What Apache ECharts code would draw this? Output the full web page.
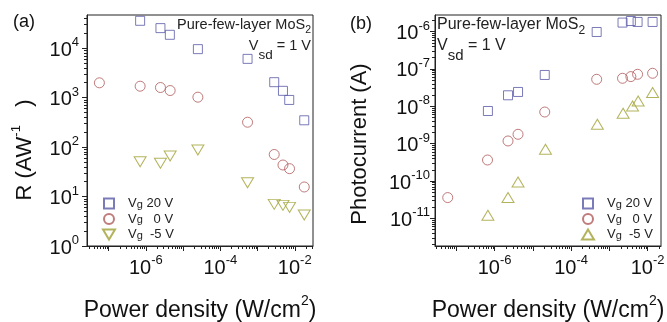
<!DOCTYPE html>
<html><head><meta charset="utf-8">
<script src="https://cdn.jsdelivr.net/npm/echarts@6/dist/echarts.min.js"></script>
<style>html,body{margin:0;padding:0;background:#fff}#c{width:667px;height:322px}</style>
</head><body><div id="c"></div>
<script>
// ---- Panel (a): responsivity R (A/W) vs power density (W/cm^2)
const aPower20 = [7.03e-7, 2.47e-6, 4.42e-6, 2.5e-5, 5.4e-4, 2.81e-3, 4.82e-3, 7.11e-3, 1.8e-2];
const aR20     = [35700, 25400, 18600, 9550, 6070, 2050, 1370, 897, 348];
const aPower0  = [5.66e-8, 7.03e-7, 2.47e-6, 4.5e-6, 2.5e-5, 5.4e-4, 2.81e-3, 4.82e-3, 7.24e-3, 1.8e-2];
const aR0      = [1990, 1700, 1600, 1390, 1020, 318, 70.8, 43.4, 36.6, 15.6];
const aPowerM5 = [7.03e-7, 2.47e-6, 4.5e-6, 2.5e-5, 5.4e-4, 2.81e-3, 4.82e-3, 7.24e-3, 1.8e-2];
const aRM5     = [50.6, 47, 66, 87.3, 19, 6.95, 6.64, 6.04, 4.23];
// ---- Panel (b): photocurrent (A) vs power density (W/cm^2)
const bPower20 = [6.71e-7, 2.25e-6, 4.11e-6, 2.05e-5, 4.67e-4, 2.21e-3, 3.65e-3, 5.47e-3, 1.35e-2];
const bI20     = [7.48e-9, 1.97e-8, 2.42e-8, 6.89e-8, 9.75e-7, 1.74e-6, 1.92e-6, 1.81e-6, 1.81e-6];
const bPower0  = [5.98e-8, 6.55e-7, 2.25e-6, 4.11e-6, 2.05e-5, 4.67e-4, 2.21e-3, 3.65e-3, 5.47e-3, 1.35e-2];
const bI0      = [3.6e-11, 3.65e-10, 1.18e-9, 1.78e-9, 7.03e-9, 5.28e-8, 5.62e-8, 6.24e-8, 7.19e-8, 7.66e-8];
const bPowerM5 = [6.71e-7, 2.25e-6, 4.11e-6, 2.14e-5, 4.86e-4, 2.29e-3, 4.04e-3, 5.66e-3, 1.35e-2];
const bIM5     = [1.21e-11, 3.6e-11, 9.4e-11, 7.06e-10, 3.3e-9, 6.5e-9, 1.02e-8, 1.39e-8, 2.33e-8];
const legendLabels = [' 20 V', '   0 V', '  -5 V'];
// axis ranges (log10 of limits)
const aXRange = [-7.58, -1.51], aYRange = [0, 4.67];
const bXRange = [-7.556, -1.65], bYRange = [-11.74, -5.556];

const FONT = "'Liberation Sans', Arial, sans-serif";
const BLUE = '#5a5aa8', RED = '#b05a5a', OLIVE = '#a0a035';
const INK = '#111';

function zip(xs, ys) { return xs.map((x, i) => [x, ys[i]]); }
// log10 positions of the 2..9 minor ticks inside a decade range
function minorLogValues(r) {
  const out = [];
  for (let k = Math.floor(r[0]); k <= Math.ceil(r[1]); k++) {
    for (let m = 2; m <= 9; m++) {
      const lv = k + Math.log10(m);
      if (lv > r[0] && lv < r[1]) out.push(lv);
    }
  }
  return out;
}
function expLabel(onlyEven) {
  return function (v) {
    const e = Math.log10(v), r = Math.round(e);
    if (Math.abs(e - r) > 0.01) return '';
    if (onlyEven && r % 2 !== 0) return '';
    return '{b|10}{s|' + r + '}';
  };
}
const tickRich = {
  b: { fontSize: 20, fontFamily: FONT, color: INK, lineHeight: 24, verticalAlign: 'bottom' },
  s: { fontSize: 13, fontFamily: FONT, color: INK, lineHeight: 13, verticalAlign: 'top' }
};
const nameRich = {
  t: { fontSize: 23, fontFamily: FONT, color: INK, lineHeight: 28, verticalAlign: 'bottom' },
  s: { fontSize: 14, fontFamily: FONT, color: INK, lineHeight: 14, verticalAlign: 'top' }
};
function logAxis(opts) {
  return Object.assign({
    type: 'log', logBase: 10,
    axisLine: { show: true, lineStyle: { color: '#222', width: 1 } },
    axisTick: { show: true, length: 5, inside: false, lineStyle: { color: '#222', width: 1 } },
    splitLine: { show: false },
    nameLocation: 'middle',
    nameTextStyle: { rich: nameRich }
  }, opts);
}
// overlay axis (same rectangle) in log10 units that only draws the short minor ticks
function minorAxis(gridIndex, r, pos) {
  return {
    type: 'value', gridIndex: gridIndex, position: pos, min: r[0], max: r[1],
    axisLine: { show: true, onZero: false, lineStyle: { color: '#222', opacity: 0 } },
    axisLabel: { show: false }, splitLine: { show: false },
    axisTick: { show: true, length: 3, inside: false, customValues: minorLogValues(r), lineStyle: { color: '#222', width: 1, opacity: 1 } }
  };
}
function sym(name, shape, color, data, xi, yi, size, rot) {
  return {
    name: name, type: 'scatter', xAxisIndex: xi, yAxisIndex: yi,
    symbol: shape, symbolSize: size, symbolRotate: rot || 0, data: data,
    itemStyle: { color: 'rgba(255,255,255,0)', borderColor: color, borderWidth: 1 },
    emphasis: { disabled: true }
  };
}
const legendRich = {
  v: { fontSize: 13, fontFamily: FONT, color: '#222', lineHeight: 14 },
  g: { fontSize: 11, fontFamily: FONT, color: '#222', lineHeight: 14, padding: [2, 0, 0, 0] }
};
function legendFmt(name) {
  const idx = { a20: 0, b20: 0, a0: 1, b0: 1, am5: 2, bm5: 2 }[name];
  return '{v|V}{g|g}{v|' + legendLabels[idx].replace(/ /g, '\u00a0') + '}';
}
const SQ = 'path://M0,0H9V9H0Z';
const TRI_DOWN = 'path://M0,0L12,0L6,10Z';
const TRI_UP = 'path://M6,0L12,10L0,10Z';
function legendCfg(names, left, tri) {
  return {
    data: [{ name: names[0], icon: SQ }, { name: names[1], icon: 'circle' }, { name: names[2], icon: tri }],
    orient: 'vertical', left: left, top: 197, padding: 0, itemWidth: 12, itemHeight: 10,
    itemGap: 2.5, formatter: legendFmt, selectedMode: false,
    textStyle: { rich: legendRich, padding: [0, 0, 0, 8] }
  };
}
function annot(pos, size, textAlign) {
  const m = { fontSize: size, fontFamily: FONT, fill: '#222', verticalAlign: 'top' };
  return [
    Object.assign({ type: 'text', top: 17 }, pos, { style: { text: '{m|Pure-few-layer MoS}{s|2}', align: textAlign,
      rich: { m: m, s: { fontSize: size - 4, fontFamily: FONT, fill: '#222', verticalAlign: 'top', padding: [8, 0, 0, 0] } } } }),
    Object.assign({ type: 'text', top: 38 }, pos, { style: { text: '{m|V}{s|sd}{m| = 1 V}', align: textAlign,
      rich: { m: m, s: { fontSize: size - 1, fontFamily: FONT, fill: '#222', verticalAlign: 'top', padding: [10, 0, 0, 0] } } } })
  ];
}
const gridBase = { top: 15, width: 226, height: 231, containLabel: false, outerBoundsMode: 'none' };

const chart = echarts.init(document.getElementById('c'), null, { renderer: 'canvas' });
chart.setOption({
  animation: false,
  backgroundColor: '#fff',
  textStyle: { fontFamily: FONT },
  grid: [
    Object.assign({ left: 87, show: true, borderColor: '#222', borderWidth: 1, backgroundColor: 'transparent' }, gridBase),
    Object.assign({ left: 435, show: true, borderColor: '#222', borderWidth: 1, backgroundColor: 'transparent' }, gridBase),
    Object.assign({ left: 87, show: false }, gridBase),
    Object.assign({ left: 435, show: false }, gridBase)
  ],
  xAxis: [
    logAxis({ gridIndex: 0, min: Math.pow(10, aXRange[0]), max: Math.pow(10, aXRange[1]),
      axisLabel: { formatter: expLabel(true), margin: 8, rich: tickRich, showMinLabel: false, showMaxLabel: false },
      name: '{t|Power density (W/cm}{s|2}{t|)}', nameGap: 48 }),
    logAxis({ gridIndex: 1, min: Math.pow(10, bXRange[0]), max: Math.pow(10, bXRange[1]),
      axisLabel: { formatter: expLabel(true), margin: 8, rich: tickRich, showMinLabel: false, showMaxLabel: false },
      name: '{t|Power density (W/cm}{s|2}{t|)}', nameGap: 48 }),
    minorAxis(2, aXRange, 'bottom'),
    minorAxis(3, bXRange, 'bottom')
  ],
  yAxis: [
    logAxis({ gridIndex: 0, min: Math.pow(10, aYRange[0]), max: Math.pow(10, aYRange[1]),
      axisLabel: { formatter: expLabel(false), margin: 8, rich: tickRich, showMaxLabel: false } }),
    logAxis({ gridIndex: 1, min: Math.pow(10, bYRange[0]), max: Math.pow(10, bYRange[1]),
      axisLabel: { formatter: expLabel(false), margin: 5, rich: tickRich, showMinLabel: false, showMaxLabel: false } }),
    minorAxis(2, aYRange, 'left'),
    minorAxis(3, bYRange, 'left')
  ],
  legend: [
    legendCfg(['a20', 'a0', 'am5'], 102, TRI_DOWN),
    legendCfg(['b20', 'b0', 'bm5'], 581, TRI_UP)
  ],
  series: [
    sym('a20', 'rect', BLUE, zip(aPower20, aR20), 0, 0, 9),
    sym('a0', 'circle', RED, zip(aPower0, aR0), 0, 0, 10),
    sym('am5', 'triangle', OLIVE, zip(aPowerM5, aRM5), 0, 0, [12, 10], 180),
    sym('b20', 'rect', BLUE, zip(bPower20, bI20), 1, 1, 9),
    sym('b0', 'circle', RED, zip(bPower0, bI0), 1, 1, 10),
    sym('bm5', 'triangle', OLIVE, zip(bPowerM5, bIM5), 1, 1, [12, 10]),
    { type: 'scatter', xAxisIndex: 2, yAxisIndex: 2, data: [], silent: true },
    { type: 'scatter', xAxisIndex: 3, yAxisIndex: 3, data: [], silent: true }
  ],
  graphic: [
    { type: 'text', left: 13, top: 13, style: { text: '(a)', font: '18px ' + FONT, fill: INK } },
    { type: 'text', left: 350, top: 15, style: { text: '(b)', font: '18px ' + FONT, fill: INK } },
    { type: 'text', x: 23, y: 150, rotation: Math.PI / 2,
      style: { text: '{t|R (AW}{s|-1}{t|\u00a0\u00a0\u00a0)}', align: 'center', verticalAlign: 'middle',
        rich: { t: { fontSize: 22, fontFamily: FONT, fill: INK, lineHeight: 26, verticalAlign: 'bottom' },
                s: { fontSize: 13, fontFamily: FONT, fill: INK, lineHeight: 13, verticalAlign: 'top' } } } },
    { type: 'text', x: 360, y: 144, rotation: Math.PI / 2,
      style: { text: 'Photocurrent (A)', align: 'center', verticalAlign: 'middle', font: '22px ' + FONT, fill: INK } }
  ].concat(annot({ right: 356 }, 14.5, 'right'), annot({ left: 437 }, 16, 'left'))
});
</script></body></html>
